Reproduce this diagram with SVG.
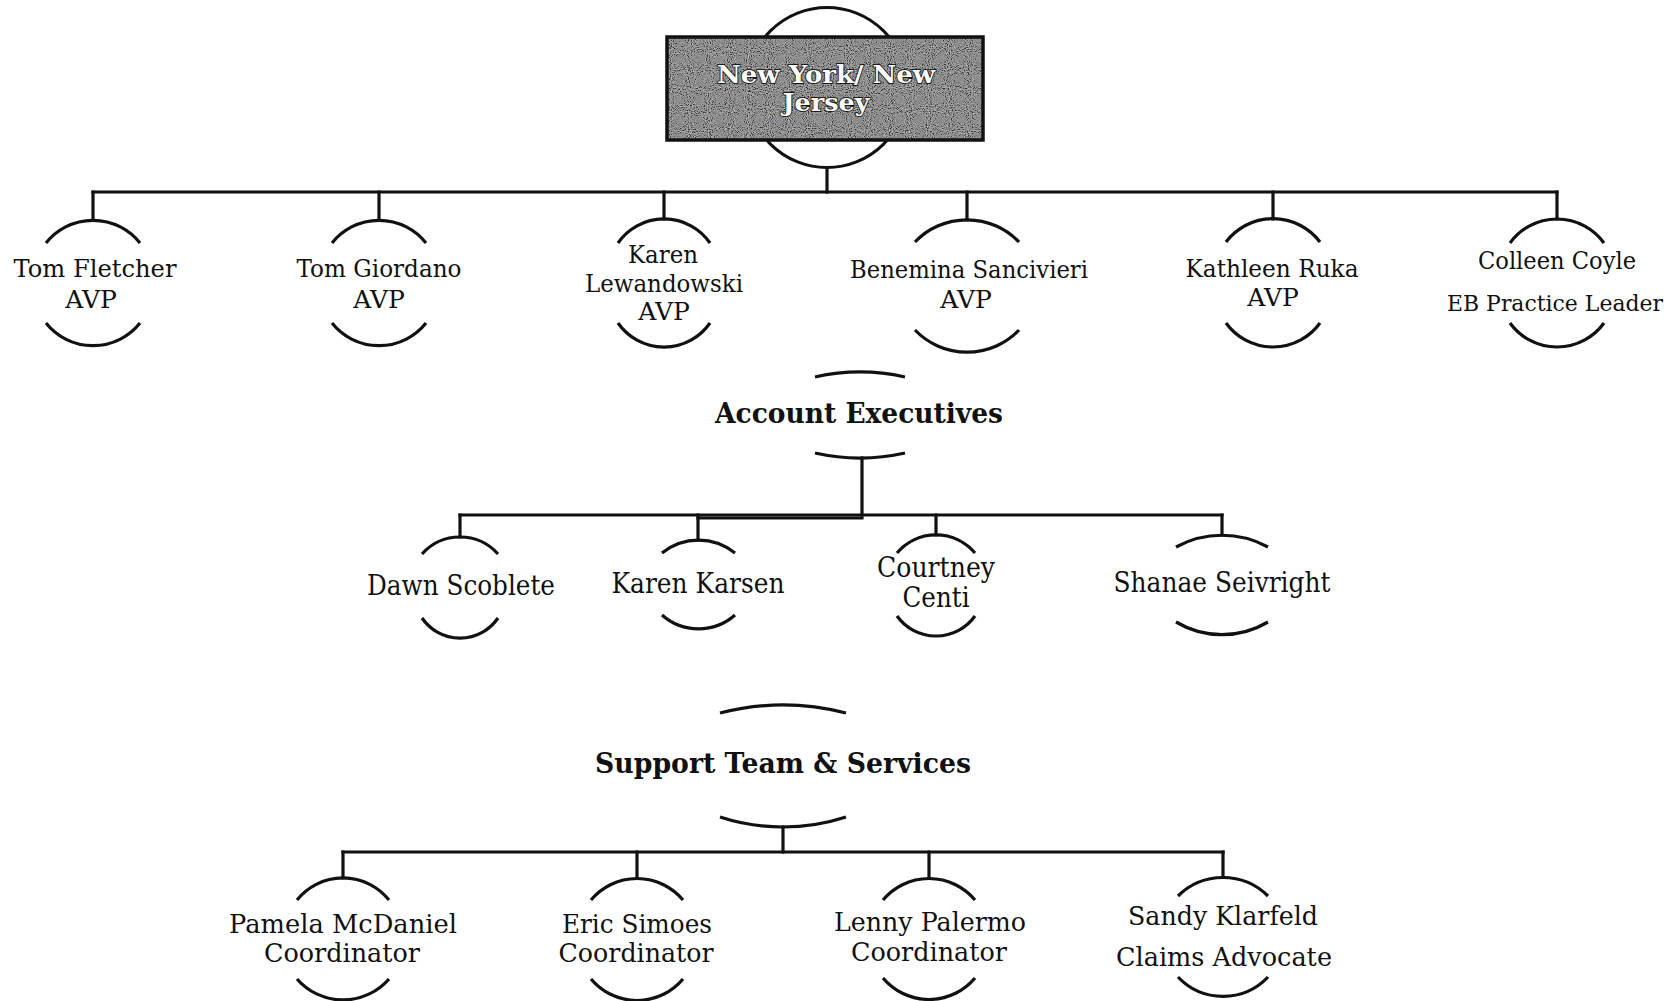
<svg xmlns="http://www.w3.org/2000/svg" width="1680" height="1001" viewBox="0 0 1680 1001">
  <defs>
    <!-- grainy grey texture for the title plate -->
    <filter id="speckle" x="0" y="0" width="1" height="1">
      <feTurbulence type="fractalNoise" baseFrequency="0.95" numOctaves="1" seed="7" result="noise"/>
      <feColorMatrix in="noise" type="matrix" values="0.33 0.33 0.33 0 0  0.33 0.33 0.33 0 0  0.33 0.33 0.33 0 0  0 0 0 0 1" result="grey"/>
      <feComponentTransfer in="grey" result="contrast">
        <feFuncR type="linear" slope="4" intercept="-1.6"/>
        <feFuncG type="linear" slope="4" intercept="-1.6"/>
        <feFuncB type="linear" slope="4" intercept="-1.6"/>
      </feComponentTransfer>
      <feComposite in="contrast" in2="SourceGraphic" operator="in"/>
    </filter>
    <style>
      .conn { stroke: #111; stroke-width: 3.2; fill: none; stroke-linecap: square; }
      .arc { stroke: #111; stroke-width: 3.2; fill: none; }
      .t1 { font-family: "DejaVu Serif", "Liberation Serif", serif; font-size: 25px; fill: #111; text-anchor: middle; }
      .t2 { font-family: "DejaVu Serif", "Liberation Serif", serif; font-size: 27px; fill: #111; text-anchor: middle; }
      .t3 { font-family: "DejaVu Serif", "Liberation Serif", serif; font-size: 26px; fill: #111; text-anchor: middle; }
      .head { font-family: "DejaVu Serif", "Liberation Serif", serif; font-size: 27px; font-weight: bold; fill: #111; text-anchor: middle; }
      .title { font-family: "DejaVu Serif", "Liberation Serif", serif; font-size: 25px; font-weight: bold; fill: #fff; stroke: #1a1a1a; stroke-width: 1.8; paint-order: stroke; text-anchor: middle; }
    </style>
  </defs>

  <rect width="1680" height="1001" fill="#fff"/>

  <!-- connectors -->
  <g id="connectors">
    <path class="conn" d="M827,167 V192"/>
    <path class="conn" d="M93,192 H1557"/>
    <path class="conn" d="M93,192 V220 M379,192 V220 M664,192 V219 M967,192 V220 M1273,192 V219 M1557,192 V219"/>

    <path class="conn" d="M862,458 V515"/>
    <path class="conn" d="M460,515 H1222"/>
    <path class="conn" d="M698,518 H862"/>
    <path class="conn" d="M460,515 V537 M698,515 V540 M936,515 V535 M1222,515 V535"/>

    <path class="conn" d="M783,827 V852"/>
    <path class="conn" d="M343,852 H1223"/>
    <path class="conn" d="M343,852 V878 M637,852 V878 M929,852 V877 M1223,852 V877"/>
  </g>

  <!-- root -->
  <g id="node-root">
    <circle cx="827" cy="87.5" r="80" fill="#fff" stroke="#111" stroke-width="3"/>
    <rect x="667" y="37" width="316" height="103" fill="#707070"/>
    <rect x="667" y="37" width="316" height="103" fill="#808080" opacity="0.55" filter="url(#speckle)"/>
    <rect x="667" y="37" width="316" height="103" fill="none" stroke="#111" stroke-width="3.5"/>
    <text class="title" x="826" y="83" textLength="218" lengthAdjust="spacingAndGlyphs">New York/  New</text>
    <text class="title" x="826" y="111" textLength="87" lengthAdjust="spacingAndGlyphs">Jersey</text>
  </g>

  <!-- first tier -->
  <g id="node-tom-fletcher">
    <path class="arc" d="M46,243 A60,60 0 0 1 140,243 M46,323 A60,60 0 0 0 140,323"/>
    <text class="t1" x="95" y="277" textLength="163" lengthAdjust="spacingAndGlyphs">Tom Fletcher</text>
    <text class="t1" x="91" y="308">AVP</text>
  </g>
  <g id="node-tom-giordano">
    <path class="arc" d="M332,243 A60,60 0 0 1 426,243 M332,323 A60,60 0 0 0 426,323"/>
    <text class="t1" x="379" y="277" textLength="165" lengthAdjust="spacingAndGlyphs">Tom Giordano</text>
    <text class="t1" x="379" y="308">AVP</text>
  </g>
  <g id="node-karen-lewandowski">
    <path class="arc" d="M618,243 A56,56 0 0 1 710,243 M618,323 A56,56 0 0 0 710,323"/>
    <text class="t1" x="663" y="263" textLength="70" lengthAdjust="spacingAndGlyphs">Karen</text>
    <text class="t1" x="664" y="292" textLength="158" lengthAdjust="spacingAndGlyphs">Lewandowski</text>
    <text class="t1" x="664" y="320">AVP</text>
  </g>
  <g id="node-benemina-sancivieri">
    <path class="arc" d="M915,242 A72,72 0 0 1 1019,242 M915,330 A72,72 0 0 0 1019,330"/>
    <text class="t1" x="969" y="278" textLength="238" lengthAdjust="spacingAndGlyphs">Benemina Sancivieri</text>
    <text class="t1" x="966" y="308">AVP</text>
  </g>
  <g id="node-kathleen-ruka">
    <path class="arc" d="M1226,242 A59,59 0 0 1 1320,242 M1226,323 A58,58 0 0 0 1320,323"/>
    <text class="t1" x="1272" y="277" textLength="173" lengthAdjust="spacingAndGlyphs">Kathleen Ruka</text>
    <text class="t1" x="1273" y="306">AVP</text>
  </g>
  <g id="node-colleen-coyle">
    <path class="arc" d="M1510,243 A58,58 0 0 1 1604,243 M1510,323 A58,58 0 0 0 1604,323"/>
    <text class="t1" x="1557" y="269" textLength="158" lengthAdjust="spacingAndGlyphs">Colleen Coyle</text>
    <text class="t1" x="1555" y="311" style="font-size:23px" textLength="216" lengthAdjust="spacingAndGlyphs">EB Practice Leader</text>
  </g>

  <!-- account executives -->
  <g id="node-account-executives">
    <path class="arc" d="M815,377 A205,205 0 0 1 905,377 M815,453 A205,205 0 0 0 905,453"/>
    <text class="head" x="859" y="423" textLength="288" lengthAdjust="spacingAndGlyphs">Account Executives</text>
  </g>
  <g id="node-dawn-scoblete">
    <path class="arc" d="M422,554 A51,51 0 0 1 498,554 M422,618 A46,46 0 0 0 498,618"/>
    <text class="t2" x="461" y="595" textLength="188" lengthAdjust="spacingAndGlyphs">Dawn Scoblete</text>
  </g>
  <g id="node-karen-karsen">
    <path class="arc" d="M662,553 A58,58 0 0 1 735,553 M662,615 A55,55 0 0 0 735,615"/>
    <text class="t2" x="698" y="593" textLength="173" lengthAdjust="spacingAndGlyphs">Karen Karsen</text>
  </g>
  <g id="node-courtney-centi">
    <path class="arc" d="M897,553 A51,51 0 0 1 975,553 M897,616 A48,48 0 0 0 975,616"/>
    <text class="t2" x="936" y="577" textLength="118" lengthAdjust="spacingAndGlyphs">Courtney</text>
    <text class="t2" x="936" y="607" textLength="67" lengthAdjust="spacingAndGlyphs">Centi</text>
  </g>
  <g id="node-shanae-seivright">
    <path class="arc" d="M1176,547 A96,96 0 0 1 1268,547 M1176,622 A90,90 0 0 0 1268,622"/>
    <text class="t2" x="1222" y="592" textLength="217" lengthAdjust="spacingAndGlyphs">Shanae Seivright</text>
  </g>

  <!-- support team -->
  <g id="node-support-team">
    <path class="arc" d="M720,713 A252,252 0 0 1 846,713 M720,817 A203,203 0 0 0 846,817"/>
    <text class="head" x="783" y="773" textLength="376" lengthAdjust="spacingAndGlyphs">Support Team &amp; Services</text>
  </g>
  <g id="node-pamela-mcdaniel">
    <path class="arc" d="M297,900 A59,59 0 0 1 389,900 M297,979 A61,61 0 0 0 389,979"/>
    <text class="t3" x="343" y="933" textLength="228" lengthAdjust="spacingAndGlyphs">Pamela McDaniel</text>
    <text class="t3" x="342" y="962" textLength="156" lengthAdjust="spacingAndGlyphs">Coordinator</text>
  </g>
  <g id="node-eric-simoes">
    <path class="arc" d="M591,900 A60,60 0 0 1 683,900 M591,979 A60,60 0 0 0 683,979"/>
    <text class="t3" x="637" y="933" textLength="150" lengthAdjust="spacingAndGlyphs">Eric Simoes</text>
    <text class="t3" x="636" y="962" textLength="155" lengthAdjust="spacingAndGlyphs">Coordinator</text>
  </g>
  <g id="node-lenny-palermo">
    <path class="arc" d="M883,900 A60,60 0 0 1 975,900 M883,978 A60,60 0 0 0 975,978"/>
    <text class="t3" x="930" y="931" textLength="192" lengthAdjust="spacingAndGlyphs">Lenny Palermo</text>
    <text class="t3" x="929" y="961" textLength="156" lengthAdjust="spacingAndGlyphs">Coordinator</text>
  </g>
  <g id="node-sandy-klarfeld">
    <path class="arc" d="M1178,896 A64,64 0 0 1 1268,896 M1178,977 A62,62 0 0 0 1268,977"/>
    <text class="t3" x="1223" y="925" textLength="190" lengthAdjust="spacingAndGlyphs">Sandy Klarfeld</text>
    <text class="t3" x="1224" y="966" textLength="216" lengthAdjust="spacingAndGlyphs">Claims Advocate</text>
  </g>
</svg>
